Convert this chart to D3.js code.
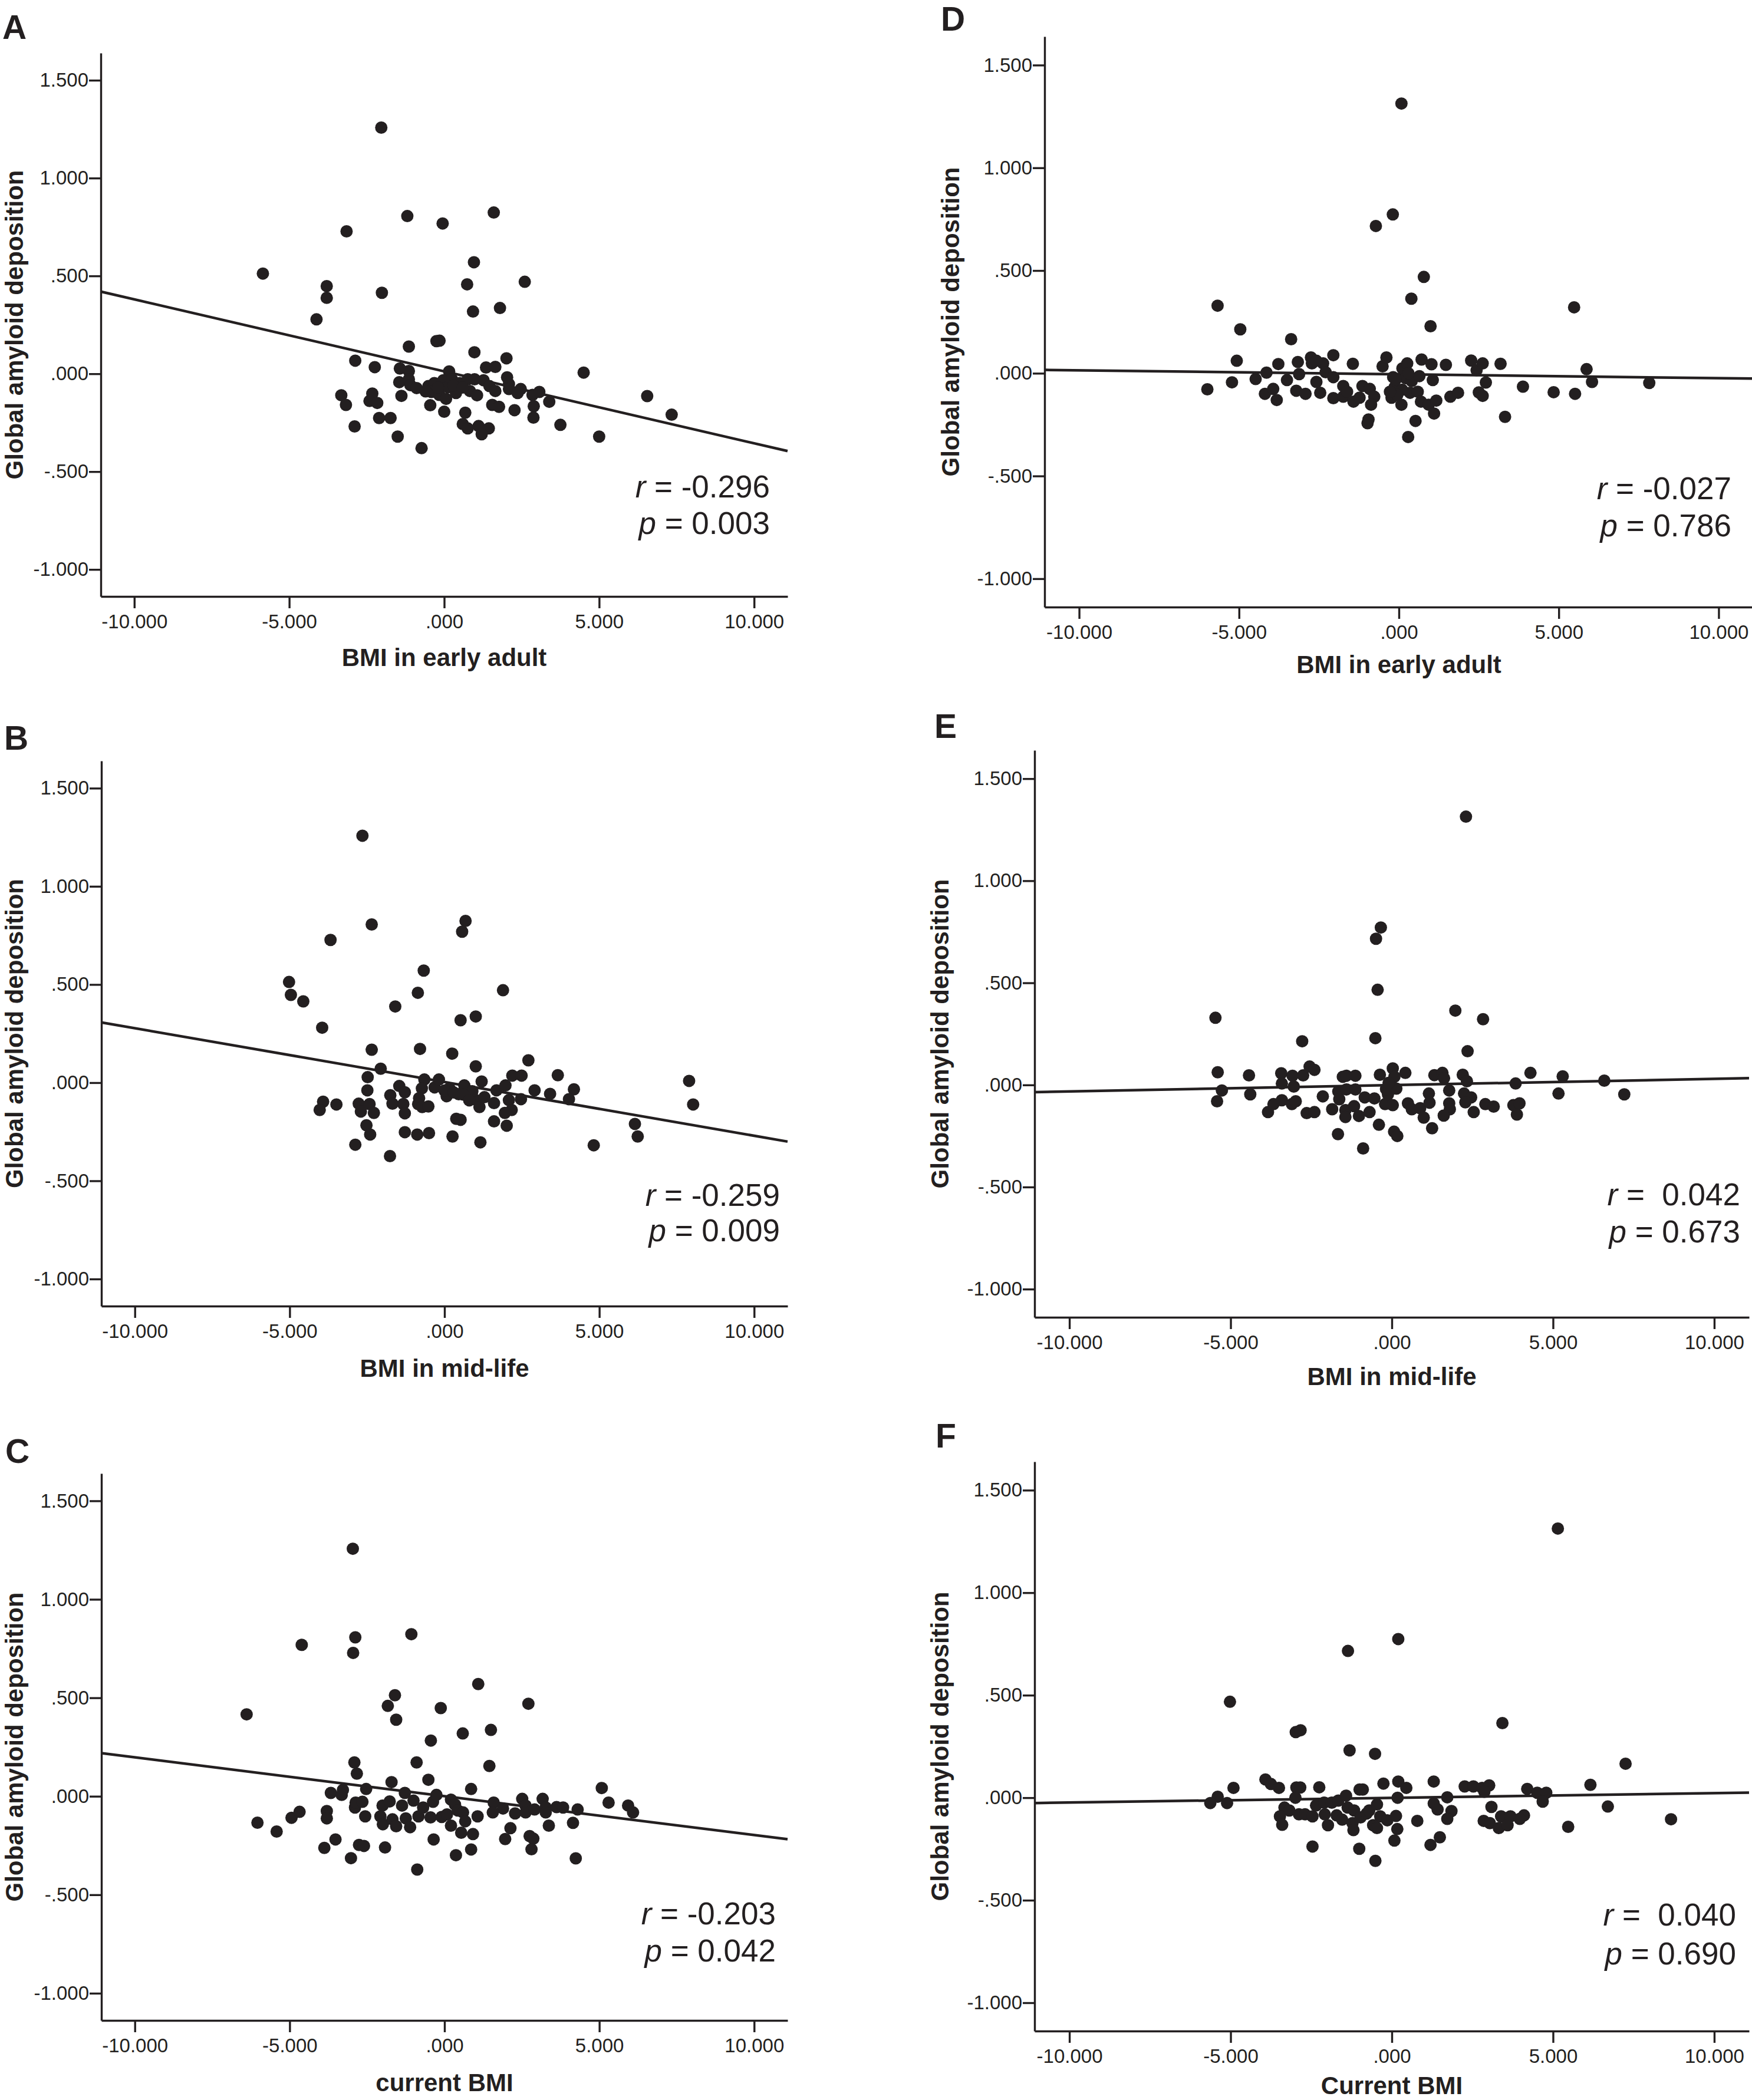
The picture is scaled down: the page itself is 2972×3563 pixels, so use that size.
<!DOCTYPE html>
<html><head><meta charset="utf-8">
<script src="https://cdn.jsdelivr.net/npm/d3@7"></script>
<style>html,body{margin:0;padding:0;background:#fff;} svg{display:block;}</style>
</head><body>
<script>
// ---------- data ----------
const xTicks = [-10, -5, 0, 5, 10];
const xTickLabels = ["-10.000", "-5.000", ".000", "5.000", "10.000"];
const yTicks = [-1, -0.5, 0, 0.5, 1, 1.5];
const yTickLabels = ["-1.000", "-.500", ".000", ".500", "1.000", "1.500"];
const xDomain = [-11.08, 11.08];
const yDomain = [-1.138, 1.639];
const panelLetters = ["A", "B", "C", "D", "E", "F"];
const xTitles = ["BMI in early adult", "BMI in mid-life", "current BMI", "BMI in early adult", "BMI in mid-life", "Current BMI"];
const yTitle = "Global amyloid deposition";
const rValues = ["-0.296", "-0.259", "-0.203", "-0.027", " 0.042", " 0.040"];
const pValues = ["0.003", "0.009", "0.042", "0.786", "0.673", "0.690"];

const pointsA = [[-2.03,1.258],[-1.19,0.806],[-0.05,0.768],[1.60,0.824],[-3.15,0.728],[-5.85,0.512],[0.96,0.570],[-3.79,0.448],[-3.79,0.388],[-2.01,0.414],[0.74,0.457],[2.60,0.470],[0.93,0.318],[1.80,0.336],[-4.12,0.278],[-0.25,0.167],[-0.15,0.169],[-1.14,0.139],[0.975,0.11],[-2.87,0.067],[-2.24,0.034],[2.01,0.079],[1.35,0.032],[1.65,0.035],[4.5,0.006],
[-1.43,0.027],[-1.14,0.014],[-1.45,-0.043],[-1.14,-0.028],[-1.09,-0.058],[-0.89,-0.073],[-1.38,-0.113],[-3.32,-0.11],[-3.17,-0.159],[-2.32,-0.101],[-2.41,-0.139],[-2.16,-0.149],[-2.10,-0.226],[-1.73,-0.226],[-2.89,-0.269],[-1.50,-0.321],[-0.73,-0.38],[0.16,0.012],[-0.51,-0.063],[-0.32,-0.048],[-0.41,-0.093],[-0.16,-0.108],[-0.03,-0.033],[0.12,-0.068],[0.25,-0.028],[0.38,-0.098],[0.50,-0.048],[0.06,-0.128],[-0.45,-0.161],[0.0,-0.194],[0.76,-0.028],[0.98,-0.028],[0.83,-0.088],[1.06,-0.11],[1.27,-0.033],[1.46,-0.063],[1.65,-0.088],[2.03,-0.018],[2.09,-0.053],[2.09,-0.078],[2.47,-0.078],[2.37,-0.098],[2.85,-0.108],[3.07,-0.093],[3.39,-0.143],[2.89,-0.166],[2.88,-0.224],[1.55,-0.159],[1.77,-0.169],[2.27,-0.186],[0.68,-0.199],[0.60,-0.257],[0.76,-0.279],[1.11,-0.267],[1.44,-0.279],[1.21,-0.309],[3.75,-0.261],[5.0,-0.321],[6.55,-0.114],[7.34,-0.209],[0.3,-0.06],[-0.2,-0.07],[0.6,-0.07],[-0.6,-0.09]];

const pointsB = [[-2.65,1.258],[-2.35,0.806],[0.68,0.824],[0.57,0.769],[-3.68,0.727],[-0.67,0.571],[-5.02,0.513],[-4.96,0.447],[-4.56,0.414],[-0.86,0.458],[1.89,0.471],[-1.59,0.388],[0.52,0.318],[1.01,0.337],[-3.95,0.28],[-2.35,0.168],[-0.79,0.172],[0.25,0.148],[1.01,0.083],[2.71,0.114],
[-2.06,0.071],[-2.48,0.028],[-2.49,-0.039],[-3.92,-0.097],[-4.03,-0.139],[-3.49,-0.111],[-2.77,-0.107],[-2.70,-0.147],[-2.42,-0.109],[-2.28,-0.154],[-2.52,-0.217],[-2.40,-0.264],[-2.88,-0.316],[-1.76,-0.374],[-1.46,-0.017],[-1.75,-0.064],[-1.68,-0.107],[-1.28,-0.049],[-1.33,-0.109],[-1.28,-0.156],[-1.28,-0.252],[-0.88,-0.264],[-0.50,-0.257],[-0.65,0.016],[-0.73,-0.029],[-0.82,-0.079],[-0.85,-0.109],[-0.72,-0.124],[-0.52,-0.121],[-0.32,-0.024],[-0.18,0.016],[0.07,-0.069],[0.16,-0.029],[0.46,-0.059],[0.64,-0.014],[0.38,-0.184],[0.52,-0.189],[0.26,-0.274],[0.96,-0.084],[0.90,-0.044],[1.20,0.006],[1.13,-0.124],[1.29,-0.074],[1.60,-0.104],[1.68,-0.039],[1.97,-0.014],[2.08,-0.089],[2.17,-0.139],[1.95,-0.154],[1.60,-0.197],[2.01,-0.219],[1.16,-0.304],[2.19,0.036],[2.49,0.036],[2.47,-0.084],[2.91,-0.039],[3.41,-0.057],[3.66,0.038],[4.18,-0.034],[4.02,-0.084],[7.9,0.009],[8.03,-0.111],[6.15,-0.21],[6.24,-0.274],[4.82,-0.319],[0.0,-0.04],[0.3,-0.05],[0.6,-0.06],[0.8,-0.09]];

const pointsC = [[-2.96,1.257],[-1.07,0.823],[-2.88,0.807],[-2.95,0.728],[-4.61,0.769],[1.09,0.57],[-1.60,0.513],[-1.83,0.459],[-0.12,0.448],[2.71,0.47],[-6.39,0.416],[-1.56,0.389],[0.59,0.319],[1.50,0.337],[-0.44,0.283],[-2.91,0.172],[-0.90,0.172],[1.45,0.154],
[-2.83,0.115],[-1.71,0.072],[-0.52,0.084],[0.86,0.037],[-3.28,0.032],[-3.67,0.017],[-3.32,0.007],[-2.53,0.037],[-1.28,0.017],[-1.00,-0.022],[-0.37,-0.028],[-0.26,0.007],[0.21,-0.017],[0.34,-0.042],[1.59,-0.032],[1.89,-0.062],[1.56,-0.082],[2.51,-0.013],[2.62,-0.047],[2.28,-0.087],[2.62,-0.082],[2.91,-0.067],[3.17,-0.013],[3.27,-0.057],[3.27,-0.082],[3.62,-0.055],[3.83,-0.057],[4.30,-0.067],[5.08,0.042],[5.30,-0.032],[5.93,-0.047],[6.09,-0.082],[3.37,-0.149],[4.15,-0.135],[4.24,-0.315],[2.13,-0.162],[1.96,-0.217],[2.75,-0.202],[2.87,-0.215],[2.81,-0.269],[-6.04,-0.134],[-5.42,-0.179],[-4.94,-0.109],[-4.68,-0.079],[-3.80,-0.075],[-3.80,-0.112],[-3.52,-0.219],[-3.88,-0.262],[-3.02,-0.314],[-2.76,-0.247],[-2.60,-0.252],[-2.89,-0.057],[-2.87,-0.032],[-2.65,-0.028],[-2.56,-0.102],[-2.00,-0.047],[-1.77,-0.026],[-1.37,-0.047],[-2.07,-0.102],[-1.99,-0.142],[-1.68,-0.117],[-1.56,-0.152],[-1.25,-0.112],[-1.11,-0.157],[-1.92,-0.26],[-0.88,-0.372],[-0.84,-0.102],[-0.69,-0.057],[-0.45,-0.107],[-0.09,-0.105],[0.08,-0.092],[-0.35,-0.219],[0.21,-0.149],[0.43,-0.072],[0.60,-0.082],[0.67,-0.127],[0.54,-0.185],[0.92,-0.192],[0.86,-0.27],[0.37,-0.299],[1.07,-0.102]];

const pointsD = [[0.08,1.313],[-0.19,0.773],[-0.72,0.717],[0.78,0.469],[0.39,0.363],[-5.67,0.329],[5.48,0.321],[0.99,0.229],[-4.96,0.214],[-3.37,0.166],
[-5.07,0.061],[-5.99,-0.078],[-5.22,-0.044],[-4.48,-0.028],[-4.14,0.003],[-3.77,0.045],[-3.16,0.055],[-2.75,0.077],[-2.72,0.048],[-2.37,0.048],[-2.05,0.088],[-1.44,0.046],[-3.12,-0.004],[-3.50,-0.033],[-2.29,0.005],[-2.05,-0.019],[-2.58,-0.042],[-4.19,-0.1],[-3.93,-0.076],[-3.82,-0.13],[-3.21,-0.085],[-2.92,-0.1],[-2.46,-0.095],[-2.05,-0.121],[-1.74,-0.062],[-1.74,-0.114],[-1.62,-0.09],[-1.42,-0.138],[-1.23,-0.119],[-1.14,-0.062],[-0.91,-0.076],[-0.77,-0.114],[-0.87,-0.153],[-0.98,-0.243],[-0.95,-0.225],[-0.51,0.034],[-0.39,0.077],[-0.18,-0.019],[-0.13,-0.067],[-0.23,-0.119],[0.08,-0.153],[0.11,0.024],[0.26,0.048],[0.21,-0.024],[0.40,-0.038],[0.35,-0.095],[0.59,-0.09],[0.64,-0.014],[0.71,0.067],[1.02,0.044],[1.06,-0.033],[0.69,-0.138],[0.93,-0.153],[1.17,-0.133],[1.10,-0.196],[0.52,-0.232],[0.29,-0.31],[1.47,0.041],[1.61,-0.114],[1.85,-0.095],[2.26,0.062],[2.43,0.015],[2.62,0.048],[2.72,-0.045],[2.50,-0.093],[2.62,-0.11],[3.18,0.046],[3.32,-0.212],[3.88,-0.065],[4.84,-0.092],[5.51,-0.1],[5.87,0.02],[6.04,-0.042],[7.83,-0.047],[-2.58,0.061],[-0.1,-0.03],[0.1,-0.08],[0.3,0.0],[-0.05,-0.105],[-0.28,-0.09]];

const pointsE = [[2.30,1.314],[-0.34,0.771],[-0.49,0.716],[-0.44,0.466],[-5.47,0.329],[1.97,0.364],[2.83,0.322],[-0.51,0.229],[-2.78,0.214],[2.35,0.165],
[-5.40,0.062],[-5.27,-0.027],[-5.42,-0.08],[-4.43,0.047],[-4.39,-0.046],[-3.84,-0.133],[-3.67,-0.094],[-3.43,0.057],[-3.41,0.007],[-3.08,0.045],[-3.04,-0.008],[-3.41,-0.075],[-3.10,-0.094],[-2.98,-0.08],[-2.75,0.047],[-2.55,0.09],[-2.40,0.074],[-2.64,-0.138],[-2.40,-0.133],[-2.14,-0.056],[-1.85,-0.119],[-1.67,-0.241],[-1.52,0.04],[-1.41,0.045],[-1.66,-0.032],[-1.63,-0.07],[-1.41,-0.022],[-1.13,0.045],[-1.13,-0.022],[-1.44,-0.123],[-1.44,-0.157],[-1.17,-0.104],[-1.02,-0.152],[-0.84,-0.061],[-0.69,-0.133],[-0.54,-0.066],[-0.40,-0.195],[-0.89,-0.311],[-0.37,0.05],[-0.21,-0.094],[-0.12,-0.046],[0.03,0.081],[0.08,0.04],[0.14,-0.018],[0.03,-0.099],[0.07,-0.229],[0.17,-0.25],[0.42,0.059],[0.50,-0.09],[0.62,-0.119],[0.88,-0.114],[0.99,-0.16],[1.15,-0.042],[1.17,-0.087],[1.25,-0.212],[1.32,0.048],[1.57,0.059],[1.62,0.033],[1.78,-0.027],[1.78,-0.09],[1.80,-0.119],[1.61,-0.15],[2.20,0.05],[2.33,0.018],[2.24,-0.042],[2.46,-0.061],[2.28,-0.085],[2.54,-0.133],[2.90,-0.094],[3.16,-0.106],[3.84,0.007],[4.30,0.059],[3.77,-0.099],[3.96,-0.09],[3.88,-0.145],[5.30,0.042],[5.17,-0.042],[6.59,0.021],[7.21,-0.046],[-0.18,-0.02],[-0.10,0.01]];

const pointsF = [[5.15,1.313],[0.20,0.774],[-1.36,0.716],[-5.02,0.468],[3.43,0.364],[-2.98,0.32],[-2.83,0.329],[-1.31,0.231],[-0.52,0.214],[7.25,0.166],
[-3.92,0.089],[-3.75,0.067],[-3.50,0.048],[-4.91,0.048],[-5.40,0.005],[-5.63,-0.026],[-5.11,-0.026],[-2.96,0.05],[-2.84,0.05],[-2.99,0.0],[-2.25,0.051],[-3.33,-0.048],[-3.18,-0.062],[-3.47,-0.091],[-3.40,-0.132],[-2.88,-0.081],[-2.69,-0.081],[-2.46,-0.091],[-2.35,-0.038],[-2.10,-0.024],[-1.86,-0.024],[-1.66,-0.014],[-1.42,0.01],[-2.08,-0.081],[-1.98,-0.134],[-1.71,-0.086],[-1.54,-0.107],[-1.37,-0.048],[-1.17,-0.062],[-1.22,-0.124],[-1.19,-0.158],[-0.97,-0.096],[-1.00,0.04],[-0.90,0.04],[-0.78,-0.077],[-0.70,-0.062],[-0.46,-0.033],[-0.36,-0.091],[-0.58,-0.134],[-0.46,-0.148],[-0.14,-0.11],[0.13,-0.089],[0.17,-0.153],[0.08,-0.209],[-0.26,0.069],[0.20,0.079],[0.45,0.048],[0.18,0.0],[0.79,-0.113],[1.30,0.079],[1.30,-0.028],[1.42,-0.057],[1.72,0.002],[1.85,-0.065],[1.72,-0.103],[1.49,-0.193],[1.20,-0.23],[-2.46,-0.238],[-1.01,-0.249],[-0.51,-0.308],[2.26,0.055],[2.53,0.055],[2.80,0.048],[3.02,0.06],[2.87,0.029],[3.09,-0.045],[2.85,-0.113],[3.04,-0.124],[3.39,-0.091],[3.68,-0.091],[3.32,-0.148],[3.59,-0.134],[4.10,-0.086],[3.97,-0.103],[4.20,0.043],[4.51,0.024],[4.79,0.024],[4.68,-0.019],[6.16,0.063],[6.70,-0.043],[5.47,-0.142],[8.66,-0.105]];

// fitted line end values (at the x-domain edges)
const fitA = [[-11.08, 0.420], [11.08, -0.395]];
const fitB = [[-11.08, 0.307], [11.08, -0.300]];
const fitC = [[-11.08, 0.219], [11.08, -0.218]];
const fitD = [[-11.08, 0.0165], [11.08, -0.026]];
const fitE = [[-11.08, -0.035], [11.08, 0.033]];
const fitF = [[-11.08, -0.026], [11.08, 0.025]];

const allPoints = [pointsA, pointsB, pointsC, pointsD, pointsE, pointsF];
const allFits = [fitA, fitB, fitC, fitD, fitE, fitF];

// ---------- layout (pixels) ----------
const layout = [
  {L:171,  T:90,   R:1336, B:1012, lx:4,    ly:66,   xt:1130, ytx:39,   rEnd:1306, rY:844,  pY:906},
  {L:172,  T:1291, R:1336, B:2216, lx:7,    ly:1272, xt:2336, ytx:39,   rEnd:1323, rY:2046, pY:2106},
  {L:172,  T:2500, R:1336, B:3428, lx:9,    ly:2482, xt:3548, ytx:39,   rEnd:1316, rY:3265, pY:3328},
  {L:1772, T:62,   R:2974, B:1030, lx:1596, ly:52,   xt:1142, ytx:1627, rEnd:2937, rY:847,  pY:910},
  {L:1755, T:1273, R:2967, B:2235, lx:1585, ly:1252, xt:2350, ytx:1609, rEnd:2952, rY:2045, pY:2108},
  {L:1755, T:2480, R:2967, B:3446, lx:1587, ly:2456, xt:3553, ytx:1609, rEnd:2945, rY:3267, pY:3333}
];

const INK = "#231f20";
const FONT = "'Liberation Sans', Arial, Helvetica, sans-serif";
const W = 2972, H = 3563;

const svg = d3.select("body").append("svg")
  .attr("width", W).attr("height", H)
  .attr("viewBox", `0 0 ${W} ${H}`)
  .style("background", "#fff");

layout.forEach((g, i) => {
  const x = d3.scaleLinear().domain(xDomain).range([g.L, g.R]);
  const y = d3.scaleLinear().domain(yDomain).range([g.B, g.T]);
  const panel = svg.append("g");

  // y axis
  const ya = panel.append("g").attr("transform", `translate(${g.L},0)`)
    .call(d3.axisLeft(y).tickValues(yTicks).tickFormat((d, k) => yTickLabels[k])
      .tickSize(20).tickSizeOuter(0).tickPadding(1));
  // x axis
  const xa = panel.append("g").attr("transform", `translate(0,${g.B})`)
    .call(d3.axisBottom(x).tickValues(xTicks).tickFormat((d, k) => xTickLabels[k])
      .tickSize(20).tickSizeOuter(0).tickPadding(11));
  [ya, xa].forEach(a => {
    a.attr("font-family", FONT).attr("font-size", 33);
    a.selectAll("path.domain").attr("stroke", INK).attr("stroke-width", 3.4);
    a.selectAll(".tick line").attr("stroke", INK).attr("stroke-width", 3.4);
    a.selectAll(".tick text").attr("fill", INK);
  });

  // fit line
  const fit = allFits[i];
  panel.append("line")
    .attr("x1", x(fit[0][0])).attr("y1", y(fit[0][1]))
    .attr("x2", x(fit[1][0])).attr("y2", y(fit[1][1]))
    .attr("stroke", INK).attr("stroke-width", 4.5);

  // points
  panel.append("g").selectAll("circle").data(allPoints[i]).join("circle")
    .attr("cx", d => x(d[0])).attr("cy", d => y(d[1]))
    .attr("r", 10.5).attr("fill", INK);

  // panel letter
  panel.append("text").attr("x", g.lx).attr("y", g.ly)
    .attr("font-family", FONT).attr("font-weight", "bold").attr("font-size", 57)
    .attr("fill", INK).text(panelLetters[i]);

  // x title
  panel.append("text").attr("x", (g.L + g.R) / 2).attr("y", g.xt)
    .attr("text-anchor", "middle")
    .attr("font-family", FONT).attr("font-weight", "bold").attr("font-size", 42)
    .attr("fill", INK).text(xTitles[i]);

  // y title
  panel.append("text")
    .attr("transform", `translate(${g.ytx},${(g.T + g.B) / 2}) rotate(-90)`)
    .attr("text-anchor", "middle")
    .attr("font-family", FONT).attr("font-weight", "bold").attr("font-size", 42)
    .attr("fill", INK).text(yTitle);

  // r and p annotations
  const rt = panel.append("text").attr("x", g.rEnd).attr("y", g.rY)
    .attr("text-anchor", "end").attr("xml:space", "preserve").style("white-space", "pre")
    .attr("font-family", FONT).attr("font-size", 53).attr("fill", INK);
  rt.append("tspan").attr("font-style", "italic").text("r");
  rt.append("tspan").text(" = " + rValues[i]);
  const pt = panel.append("text").attr("x", g.rEnd).attr("y", g.pY)
    .attr("text-anchor", "end").attr("xml:space", "preserve").style("white-space", "pre")
    .attr("font-family", FONT).attr("font-size", 53).attr("fill", INK);
  pt.append("tspan").attr("font-style", "italic").text("p");
  pt.append("tspan").text(" = " + pValues[i]);
});
</script>
</body></html>
